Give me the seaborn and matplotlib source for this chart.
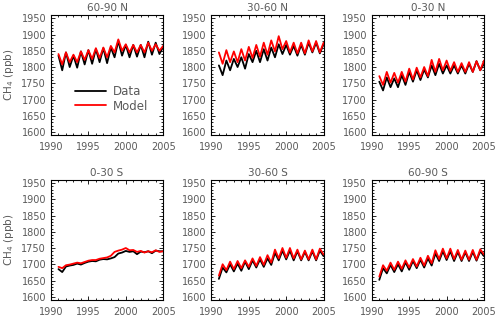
import numpy as np
import pandas as pd
import matplotlib
matplotlib.use("Agg")
import matplotlib.pyplot as plt
import seaborn as sns
from matplotlib.ticker import MultipleLocator

# --- data: half-yearly peak / trough values ---
years = [1991.0, 1991.5, 1992.0, 1992.5, 1993.0, 1993.5, 1994.0, 1994.5,
         1995.0, 1995.5, 1996.0, 1996.5, 1997.0, 1997.5, 1998.0, 1998.5,
         1999.0, 1999.5, 2000.0, 2000.5, 2001.0, 2001.5, 2002.0, 2002.5,
         2003.0, 2003.5, 2004.0, 2004.5, 2005.0]

regions = ["60-90 N", "30-60 N", "0-30 N", "0-30 S", "30-60 S", "60-90 S"]

data_6090n = [1835, 1790, 1845, 1800, 1835, 1798, 1848, 1808, 1852, 1810,
              1855, 1815, 1858, 1812, 1860, 1830, 1880, 1835, 1868, 1830,
              1868, 1832, 1868, 1830, 1878, 1838, 1875, 1840, 1862]
model_6090n = [1840, 1808, 1845, 1815, 1838, 1815, 1848, 1822, 1852, 1825,
               1858, 1828, 1860, 1830, 1865, 1845, 1885, 1850, 1870, 1845,
               1868, 1845, 1868, 1845, 1875, 1850, 1870, 1850, 1865]

data_3060n = [1805, 1775, 1820, 1790, 1825, 1800, 1830, 1795, 1840, 1815,
              1850, 1815, 1855, 1820, 1860, 1830, 1870, 1840, 1868, 1838,
              1865, 1835, 1868, 1838, 1875, 1845, 1875, 1842, 1870]
model_3060n = [1845, 1810, 1852, 1815, 1848, 1815, 1855, 1820, 1862, 1828,
               1868, 1832, 1875, 1838, 1882, 1848, 1895, 1855, 1880, 1845,
               1875, 1842, 1875, 1842, 1882, 1848, 1880, 1845, 1875]

data_030n = [1755, 1728, 1768, 1738, 1765, 1738, 1775, 1745, 1785, 1755,
             1790, 1760, 1792, 1768, 1805, 1775, 1810, 1780, 1805, 1780,
             1805, 1780, 1805, 1780, 1810, 1785, 1818, 1790, 1810]
model_030n = [1772, 1745, 1785, 1752, 1782, 1752, 1785, 1755, 1795, 1762,
              1798, 1768, 1800, 1772, 1822, 1785, 1825, 1790, 1820, 1788,
              1815, 1785, 1812, 1785, 1815, 1785, 1818, 1790, 1820]

data_030s = [1685, 1676, 1693, 1696, 1698, 1702, 1699, 1704, 1708, 1710,
             1709, 1714, 1716, 1715, 1718, 1722, 1733, 1736, 1741, 1738,
             1740, 1731, 1739, 1737, 1740, 1734, 1742, 1740, 1740]
model_030s = [1692, 1688, 1697, 1699, 1702, 1705, 1703, 1707, 1711, 1713,
              1713, 1717, 1719, 1721, 1726, 1738, 1742, 1745, 1750, 1743,
              1744, 1738, 1741, 1736, 1740, 1737, 1743, 1738, 1740]

data_3060s = [1655, 1690, 1675, 1700, 1678, 1702, 1680, 1708, 1685, 1712,
              1690, 1715, 1692, 1718, 1698, 1735, 1712, 1742, 1715, 1742,
              1712, 1740, 1712, 1738, 1712, 1740, 1712, 1742, 1725]
model_3060s = [1665, 1700, 1682, 1708, 1685, 1710, 1688, 1712, 1692, 1718,
               1695, 1722, 1698, 1728, 1705, 1745, 1718, 1750, 1720, 1750,
               1718, 1745, 1715, 1742, 1715, 1745, 1715, 1748, 1730]

data_6090s = [1652, 1688, 1672, 1698, 1676, 1700, 1678, 1706, 1683, 1710,
              1688, 1714, 1690, 1718, 1696, 1733, 1710, 1740, 1713, 1740,
              1710, 1738, 1710, 1737, 1710, 1738, 1711, 1740, 1725]
model_6090s = [1662, 1697, 1680, 1705, 1683, 1708, 1686, 1712, 1690, 1716,
               1693, 1720, 1696, 1726, 1703, 1743, 1716, 1748, 1718, 1748,
               1716, 1744, 1714, 1742, 1714, 1744, 1714, 1746, 1730]

data_series = [data_6090n, data_3060n, data_030n, data_030s, data_3060s, data_6090s]
model_series = [model_6090n, model_3060n, model_030n, model_030s, model_3060s, model_6090s]

# long-form table for seaborn
rows = []
for reg, d, m in zip(regions, data_series, model_series):
    for t, dv, mv in zip(years, d, m):
        rows.append({"region": reg, "year": t, "source": "Data", "ch4": dv})
        rows.append({"region": reg, "year": t, "source": "Model", "ch4": mv})
df = pd.DataFrame(rows)

sns.set_style("ticks")
plt.rcParams["font.family"] = ["DejaVu Sans"]
grey = "#5a5a5a"

fig, axes = plt.subplots(2, 3, figsize=(5, 3.2), dpi=100)
fig.subplots_adjust(left=0.102, right=0.968, top=0.953, bottom=0.0625,
                    wspace=0.43, hspace=0.37)

palette = {"Data": "black", "Model": "red"}

for i, (ax, reg) in enumerate(zip(axes.flat, regions)):
    sub = df[df["region"] == reg]
    sns.lineplot(data=sub, x="year", y="ch4", hue="source", palette=palette,
                 hue_order=["Data", "Model"], linewidth=1.3, ax=ax,
                 legend=(i == 0))
    ax.set_xlim(1990, 2005)
    ax.set_ylim(1590, 1960)
    ax.set_title(reg, fontsize=7.5, color=grey, pad=3)
    ax.set_xlabel("")
    ax.set_ylabel("CH$_4$ (ppb)" if i % 3 == 0 else "", fontsize=7.5, color=grey)
    ax.set_xticks([1990, 1995, 2000, 2005])
    ax.set_yticks(np.arange(1600, 1951, 50))
    ax.xaxis.set_minor_locator(MultipleLocator(1))
    ax.yaxis.set_minor_locator(MultipleLocator(10))
    ax.tick_params(which="both", direction="in", top=True, right=True,
                   labelsize=7, labelcolor=grey, color="black", width=0.6)
    ax.tick_params(which="major", length=3)
    ax.tick_params(which="minor", length=1.5)
    ax.tick_params(axis="x", pad=5)
    for s in ax.spines.values():
        s.set_linewidth(0.8)
        s.set_color("black")
    if i == 0:
        leg = ax.legend(loc="lower left", bbox_to_anchor=(0.12, 0.1),
                        frameon=False, fontsize=8.5, handlelength=2.6,
                        labelspacing=0.15, handletextpad=0.6)
        for txt in leg.get_texts():
            txt.set_color(grey)

fig.savefig("out.png", dpi=100)
